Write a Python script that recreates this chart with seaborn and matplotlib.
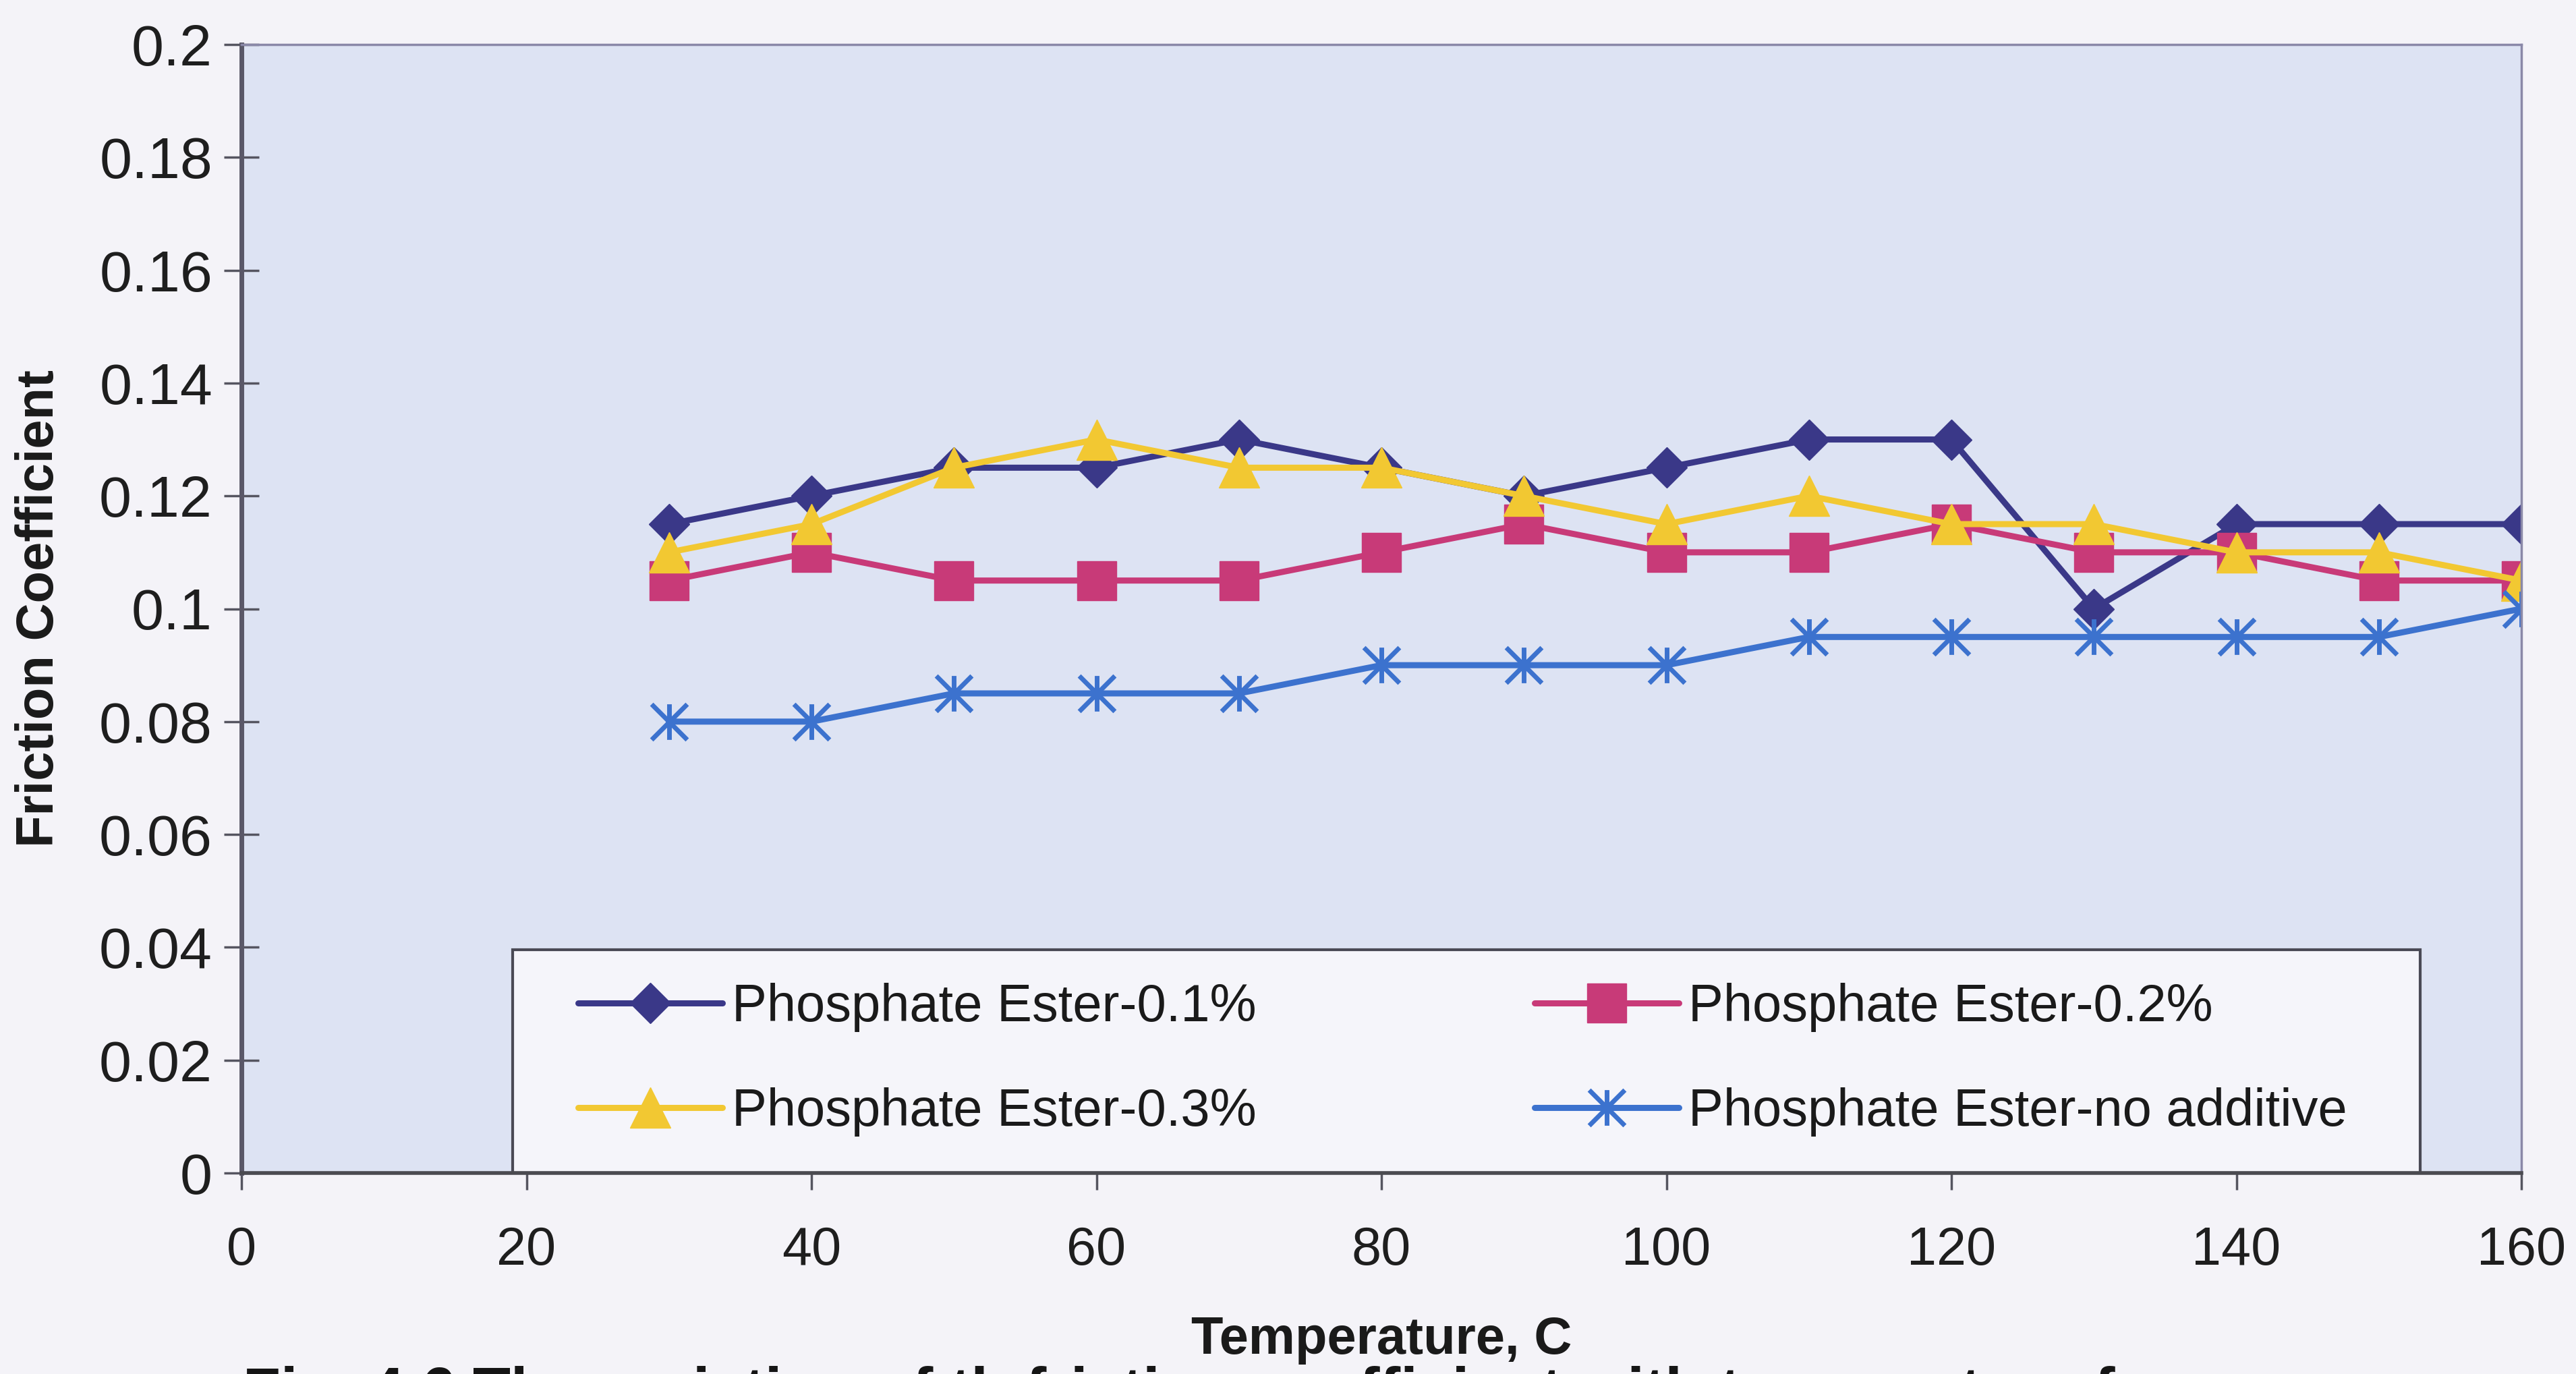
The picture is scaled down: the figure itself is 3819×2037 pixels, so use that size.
import numpy as np
import pandas as pd
import matplotlib
matplotlib.use("Agg")
import matplotlib.pyplot as plt
from matplotlib.path import Path
from matplotlib.patches import Rectangle
from matplotlib.ticker import FixedLocator, FuncFormatter
import seaborn as sns

# ---------------- data ----------------
temperature = [30, 40, 50, 60, 70, 80, 90, 100, 110, 120, 130, 140, 150, 160]
pe_01 = [0.115, 0.12, 0.125, 0.125, 0.13, 0.125, 0.12, 0.125, 0.13, 0.13, 0.10, 0.115, 0.115, 0.115]
pe_02 = [0.105, 0.11, 0.105, 0.105, 0.105, 0.11, 0.115, 0.11, 0.11, 0.115, 0.11, 0.11, 0.105, 0.105]
pe_03 = [0.11, 0.115, 0.125, 0.13, 0.125, 0.125, 0.12, 0.115, 0.12, 0.115, 0.115, 0.11, 0.11, 0.105]
pe_none = [0.08, 0.08, 0.085, 0.085, 0.085, 0.09, 0.09, 0.09, 0.095, 0.095, 0.095, 0.095, 0.095, 0.10]

series_names = ["Phosphate Ester-0.1%", "Phosphate Ester-0.2%",
                "Phosphate Ester-0.3%", "Phosphate Ester-no additive"]
series_values = [pe_01, pe_02, pe_03, pe_none]

x_ticks = [0, 20, 40, 60, 80, 100, 120, 140, 160]
y_ticks = [0, 0.02, 0.04, 0.06, 0.08, 0.1, 0.12, 0.14, 0.16, 0.18, 0.2]

x_label = "Temperature, C"
y_label = "Friction Coefficient"
caption = "Fig. 4.6 The variation of th friction coefficient with temperature for a"

# ---------------- style ----------------
sns.set_style("white")
plt.rcParams["font.family"] = ["Liberation Sans", "DejaVu Sans"]

colors = ["#3A3888", "#C83A78", "#F2C832", "#3C72CE"]
asterisk = Path([(0, -1), (0, 1), (-1, -1), (1, 1), (-1, 1), (1, -1)],
                [Path.MOVETO, Path.LINETO, Path.MOVETO, Path.LINETO, Path.MOVETO, Path.LINETO])
markers = ["D", "s", "^", asterisk]
msizes = [31, 42, 43, 38]

W, H = 3819, 2037
fig = plt.figure(figsize=(W / 100, H / 100), dpi=100, facecolor="#F4F3F8")
ax = fig.add_axes([358 / W, 1 - 1739 / H, (3738 - 358) / W, (1739 - 66) / H])
ax.set_facecolor("#DDE3F3")

df = pd.DataFrame({"Temperature": temperature})
for name, vals in zip(series_names, series_values):
    df[name] = vals

for i, name in enumerate(series_names):
    if i == 3:
        kw = dict(markerfacecolor="none", markeredgecolor=colors[i], markeredgewidth=5)
    else:
        kw = dict(markerfacecolor=colors[i], markeredgecolor=colors[i], markeredgewidth=1)
    sns.lineplot(data=df, x="Temperature", y=name, ax=ax, color=colors[i],
                 linewidth=6.5, marker=markers[i], markersize=msizes[i],
                 label=name, zorder=3 + i, **kw)

ax.set_xlim(0, 160)
ax.set_ylim(0, 0.2)
ax.xaxis.set_major_locator(FixedLocator(x_ticks))
ax.yaxis.set_major_locator(FixedLocator(y_ticks))
ax.yaxis.set_major_formatter(FuncFormatter(lambda v, p: f"{v:g}"))
ax.xaxis.set_major_formatter(FuncFormatter(lambda v, p: f"{v:g}"))

ax.tick_params(axis="y", direction="inout", length=38, width=2.5, color="#555560",
               labelsize=62, pad=12, left=True)
ax.tick_params(axis="x", direction="out", length=18, width=2.5, color="#555560",
               labelsize=57, pad=38, bottom=True)
for t in ax.get_yticklabels() + ax.get_xticklabels():
    t.set_color("#1E1E1E")

for side, lw, col in [("left", 5, "#5A5868"), ("bottom", 4, "#4A4A50"),
                      ("top", 2.5, "#8A88A8"), ("right", 2.5, "#8A88A8")]:
    ax.spines[side].set_visible(True)
    ax.spines[side].set_linewidth(lw)
    ax.spines[side].set_color(col)
    ax.spines[side].set_zorder(12)

ax.set_xlabel(x_label, fontsize=56, fontweight="bold", color="#1A1A1A")
ax.set_ylabel(y_label, fontsize=56, fontweight="bold", color="#1A1A1A")
ax.xaxis.set_label_coords(0.5, (1739 - 1950) / 1673)
ax.yaxis.set_label_coords((95 - 358) / 3380, 0.5)

# legend box (drawn as a patch) and frameless legend inside it
box = Rectangle((0.1189, 0.0), 0.9556 - 0.1189, 0.1978, transform=ax.transAxes,
                facecolor="#F5F5FA", edgecolor="#4A4A55", linewidth=3, zorder=10)
ax.add_patch(box)

handles, labels = ax.get_legend_handles_labels()
order = [0, 2, 1, 3]
leg = ax.legend([handles[k] for k in order], [labels[k] for k in order],
                loc="center left", bbox_to_anchor=(0.1476, 0.1004),
                ncol=2, fontsize=56, frameon=False, borderpad=0, borderaxespad=0,
                handlelength=2.75, handletextpad=0.18, columnspacing=5.3,
                labelspacing=1.05)
leg.set_zorder(11)
for t in leg.get_texts():
    t.set_color("#1A1A1A")

fig.text(360 / W, 1 - 2092 / H, caption, ha="left", va="baseline",
         fontsize=66, fontweight="bold", color="#151515")

fig.savefig("out.png", dpi=100, facecolor=fig.get_facecolor())
